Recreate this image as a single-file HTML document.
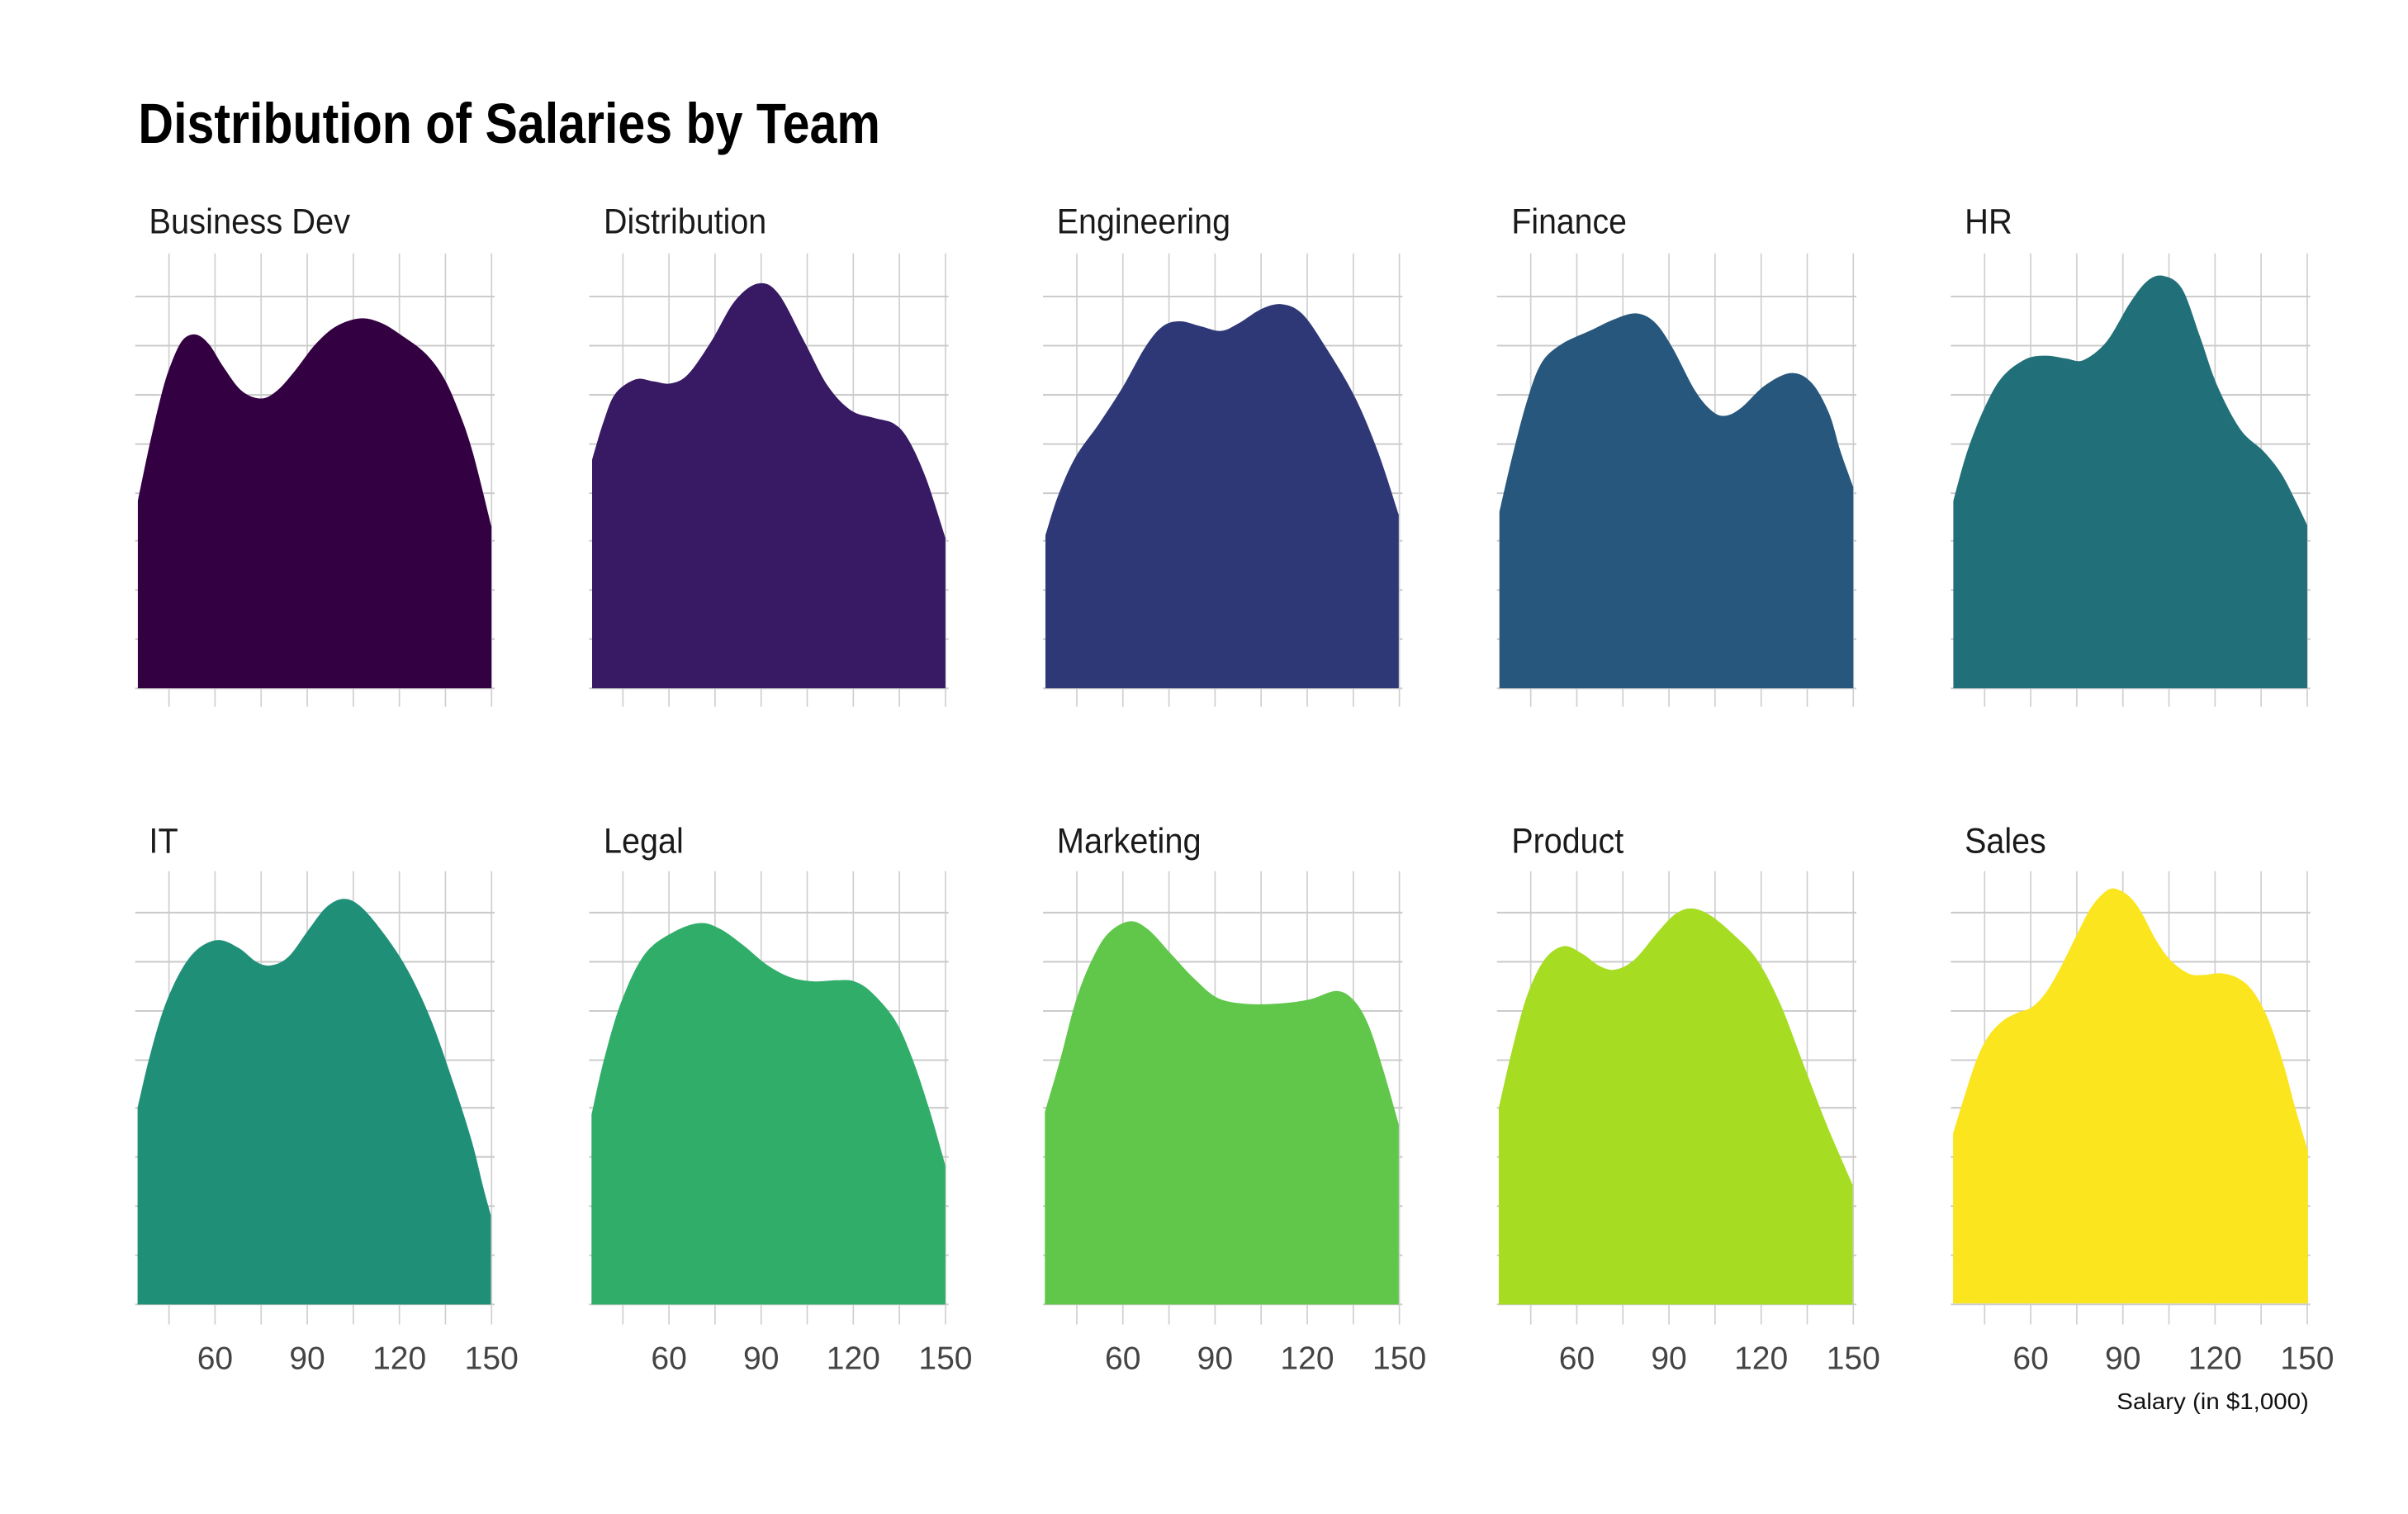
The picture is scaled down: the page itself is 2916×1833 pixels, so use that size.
<!DOCTYPE html>
<html><head><meta charset="utf-8"><style>
html,body{margin:0;padding:0;background:#fff;}
svg{display:block;}
text{font-family:"Liberation Sans",sans-serif;}
</style></head><body>
<svg id="chart" width="2916" height="1833" viewBox="0 0 1567.6 985.4" xmlns="http://www.w3.org/2000/svg">
<defs>
<g id="grid1">
  <g stroke="#cfcfcf" stroke-width="0.9">
    <line x1="20" y1="165" x2="20" y2="460"/><line x1="50" y1="165" x2="50" y2="460"/>
    <line x1="80" y1="165" x2="80" y2="460"/><line x1="110" y1="165" x2="110" y2="460"/>
    <line x1="140" y1="165" x2="140" y2="460"/><line x1="170" y1="165" x2="170" y2="460"/>
    <line x1="200" y1="165" x2="200" y2="460"/><line x1="230" y1="165" x2="230" y2="460"/>
  </g>
  <g stroke="#cccccc" stroke-width="1.1">
    <line x1="-2" y1="193" x2="232" y2="193"/><line x1="-2" y1="225" x2="232" y2="225"/>
    <line x1="-2" y1="257" x2="232" y2="257"/><line x1="-2" y1="289" x2="232" y2="289"/>
    <line x1="-2" y1="321" x2="232" y2="321"/><line x1="-2" y1="352" x2="232" y2="352"/>
    <line x1="-2" y1="384" x2="232" y2="384"/><line x1="-2" y1="416" x2="232" y2="416"/>
    <line x1="-2" y1="448" x2="232" y2="448"/>
  </g>
</g>
<g id="grid2">
  <g stroke="#cfcfcf" stroke-width="0.9">
    <line x1="20" y1="565" x2="20" y2="860"/><line x1="50" y1="565" x2="50" y2="860"/>
    <line x1="80" y1="565" x2="80" y2="860"/><line x1="110" y1="565" x2="110" y2="860"/>
    <line x1="140" y1="565" x2="140" y2="860"/><line x1="170" y1="565" x2="170" y2="860"/>
    <line x1="200" y1="565" x2="200" y2="860"/><line x1="230" y1="565" x2="230" y2="860"/>
  </g>
  <g stroke="#cccccc" stroke-width="1.1">
    <line x1="-2" y1="592" x2="232" y2="592"/><line x1="-2" y1="624" x2="232" y2="624"/>
    <line x1="-2" y1="656" x2="232" y2="656"/><line x1="-2" y1="688" x2="232" y2="688"/>
    <line x1="-2" y1="719" x2="232" y2="719"/><line x1="-2" y1="751" x2="232" y2="751"/>
    <line x1="-2" y1="783" x2="232" y2="783"/><line x1="-2" y1="815" x2="232" y2="815"/>
    <line x1="-2" y1="847" x2="232" y2="847"/>
  </g>
  <g fill="#444" font-size="21" text-anchor="middle">
    <text x="50" y="889">60</text><text x="110" y="889">90</text>
    <text x="170" y="889">120</text><text x="230" y="889">150</text>
  </g>
</g>
</defs>

<text x="90" y="93" font-size="37" font-weight="bold" fill="#000" textLength="483" lengthAdjust="spacingAndGlyphs">Distribution of Salaries by Team</text>

<use href="#grid1" x="90"/><use href="#grid1" x="385.5"/><use href="#grid1" x="681"/><use href="#grid1" x="976.5"/><use href="#grid1" x="1272"/>
<g transform="translate(0,2)">
<use href="#grid2" x="90"/><use href="#grid2" x="385.5"/><use href="#grid2" x="681"/><use href="#grid2" x="976.5"/><use href="#grid2" x="1272"/>
</g>

<g fill="#1a1a1a" font-size="23">
<text x="97" y="152" textLength="131" lengthAdjust="spacingAndGlyphs">Business Dev</text>
<text x="393" y="152" textLength="106" lengthAdjust="spacingAndGlyphs">Distribution</text>
<text x="688" y="152" textLength="113" lengthAdjust="spacingAndGlyphs">Engineering</text>
<text x="984" y="152" textLength="75" lengthAdjust="spacingAndGlyphs">Finance</text>
<text x="1279" y="152" textLength="31" lengthAdjust="spacingAndGlyphs">HR</text>
<text x="97" y="555" textLength="19" lengthAdjust="spacingAndGlyphs">IT</text>
<text x="393" y="555" textLength="52" lengthAdjust="spacingAndGlyphs">Legal</text>
<text x="688" y="555" textLength="94" lengthAdjust="spacingAndGlyphs">Marketing</text>
<text x="984" y="555" textLength="73" lengthAdjust="spacingAndGlyphs">Product</text>
<text x="1279" y="555" textLength="53" lengthAdjust="spacingAndGlyphs">Sales</text>
</g>

<g transform="translate(53.1,107.6) scale(0.1928,0.2328)">
<polygon class="sm" fill="#330042" points="190,1462 190,938 230,780 270,640 300,560 340,490 385,473 430,500 480,565 540,630 605,652 660,630 720,575 790,500 860,450 940,428 1010,440 1080,475 1160,525 1220,590 1270,680 1320,800 1384,1010 1384,1462"/>
</g>
<g transform="translate(376,150.6) scale(0.3783,0.179)">
<polygon class="sm" fill="#371964" points="25,1661 25,830 45,690 65,590 100,538 130,545 160,553 190,520 230,400 270,255 310,190 345,225 390,400 430,560 470,650 510,678 545,700 570,760 600,900 633,1115 633,1661"/>
</g>
<g transform="translate(374.9,150.6) scale(0.3783,0.179)">
<polygon class="sm" fill="#2F3877" points="808,1661 808,1105 830,960 860,820 900,700 940,570 980,420 1010,345 1040,327 1075,345 1110,362 1140,335 1180,282 1215,265 1250,300 1290,420 1340,600 1380,800 1416,1030 1416,1661"/>
</g>
<g transform="translate(967.4,150.6) scale(0.3783,0.179)">
<polygon class="sm" fill="#27577C" points="23,1661 23,1020 45,820 70,620 95,480 130,410 180,360 220,320 258,298 290,330 320,420 360,580 390,655 413,670 440,640 480,560 525,515 560,550 590,660 610,800 632,930 632,1661"/>
</g>
<g transform="translate(966.7,150.6) scale(0.3783,0.179)">
<polygon class="sm" fill="#217079" points="806,1661 806,980 830,800 860,640 890,530 930,465 965,452 1000,462 1030,468 1070,400 1110,260 1140,180 1168,162 1200,210 1230,380 1260,560 1300,720 1340,800 1370,880 1395,980 1415,1068 1415,1661"/>
</g>
<g transform="translate(0,2)">
<g transform="translate(80.1,550.8) scale(0.3783,0.179)">
<polygon class="sm" fill="#208F78" points="25,1655 25,940 45,760 70,580 100,440 130,360 165,330 200,360 230,410 255,422 285,390 320,290 350,210 380,180 410,210 450,310 490,440 530,620 570,860 600,1060 620,1230 633,1330 633,1655"/>
</g>
<g transform="translate(79.4,550.8) scale(0.3783,0.179)">
<polygon class="sm" fill="#31AD6A" points="808,1655 808,965 830,760 860,550 900,380 950,300 995,268 1030,290 1070,350 1110,420 1150,465 1190,480 1230,476 1260,480 1290,520 1330,620 1360,760 1390,950 1417,1150 1417,1655"/>
</g>
<g transform="translate(671.5,550.8) scale(0.3783,0.179)">
<polygon class="sm" fill="#60C74A" points="23,1655 23,955 50,760 75,560 100,420 130,310 168,262 200,290 240,380 280,470 320,540 370,562 430,560 480,545 525,515 555,550 580,640 605,800 632,1000 632,1655"/>
</g>
<g transform="translate(670.8,550.8) scale(0.3783,0.179)">
<polygon class="sm" fill="#A6DC22" points="806,1655 806,940 830,720 855,530 885,400 918,352 950,380 980,425 1007,437 1040,400 1080,300 1110,235 1138,215 1170,240 1210,310 1250,400 1290,560 1330,780 1370,1000 1415,1220 1415,1655"/>
</g>
<g transform="translate(1236.4,535) scale(0.1925,0.2601)">
<polygon class="sm" fill="#FBE51F" points="182,1197 182,772 220,680 260,590 300,530 350,490 400,470 450,455 500,415 550,350 600,275 650,205 700,165 735,160 780,180 820,220 870,290 920,340 980,372 1030,375 1090,371 1150,385 1200,420 1250,490 1300,600 1340,710 1382,815 1382,1197"/>
</g>
</g>

<text x="1503" y="917" font-size="15" fill="#111" text-anchor="end" textLength="125" lengthAdjust="spacingAndGlyphs">Salary (in $1,000)</text>
</svg>
<script>
(function(){
  var NS="http://www.w3.org/2000/svg";
  var polys=document.querySelectorAll("polygon.sm");
  for(var k=0;k<polys.length;k++){
    var pg=polys[k];
    var nums=pg.getAttribute("points").trim().split(/[\s,]+/).map(Number);
    var pts=[];for(var i=0;i<nums.length;i+=2)pts.push([nums[i],nums[i+1]]);
    var base0=pts[0],baseN=pts[pts.length-1];
    var c=pts.slice(1,pts.length-1);
    var d="M"+base0[0]+","+base0[1]+" L"+c[0][0]+","+c[0][1];
    for(var i=0;i<c.length-1;i++){
      var p0=c[i-1]||c[i],p1=c[i],p2=c[i+1],p3=c[i+2]||c[i+1];
      var c1x=p1[0]+(p2[0]-p0[0])/6,c1y=p1[1]+(p2[1]-p0[1])/6;
      var c2x=p2[0]-(p3[0]-p1[0])/6,c2y=p2[1]-(p3[1]-p1[1])/6;
      d+=" C"+c1x+","+c1y+" "+c2x+","+c2y+" "+p2[0]+","+p2[1];
    }
    d+=" L"+baseN[0]+","+baseN[1]+" Z";
    var path=document.createElementNS(NS,"path");
    path.setAttribute("d",d);path.setAttribute("fill",pg.getAttribute("fill"));
    pg.parentNode.replaceChild(path,pg);
  }
})();
</script>
</body></html>
